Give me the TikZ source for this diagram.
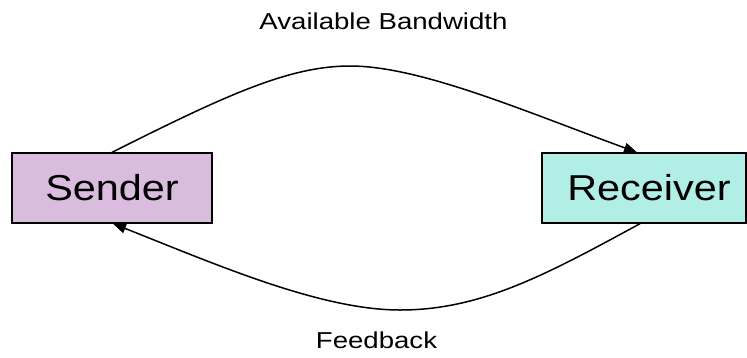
\documentclass[tikz,border=0pt]{standalone}
\usepackage{fontspec}
\setmainfont{Liberation Sans}
\usetikzlibrary{arrows.meta}
\definecolor{sendfill}{HTML}{D9BCDE}
\definecolor{recvfill}{HTML}{B0EEE6}
\begin{document}
\begin{tikzpicture}[x=1pt,y=-1pt,
  box/.style={draw=black,line width=1.3pt,minimum width=200pt,minimum height=70pt,inner sep=0pt,
    font=\fontsize{36}{40}\selectfont},
  conn/.style={draw=black,line width=1.5pt,-{Triangle[length=13pt,width=10pt]}},
  lbl/.style={inner sep=0pt,anchor=base,font=\fontsize{23}{26}\selectfont}]
\useasboundingbox (0,0) rectangle (747,357);
\node[box,fill=sendfill] (s) at (112,188) {\scalebox{1.15}[1]{Sender}};
\node[box,fill=recvfill,minimum width=204pt] (r) at (644,188) {\hspace*{10pt}\scalebox{1.15}[1]{Receiver}};
\node[lbl] (lab1) at (383.5,29) {\scalebox{1.2}[1]{Available Bandwidth}};
\node[lbl] (lab2) at (376.5,348) {\scalebox{1.2}[1]{Feedback}};
\coordinate (top) at (350,66);
\coordinate (bot) at (400,310);
\draw[conn] (s.north) .. controls (228,94) and (290,66) .. (top)
   .. controls (420,66) and (524,111) .. ([xshift=-7pt]r.north);
\draw[conn] ([xshift=-4pt]r.south) .. controls (544,276) and (480,310) .. (bot)
   .. controls (320,310) and (215,264) .. ([xshift=1pt]s.south);
\end{tikzpicture}
\end{document}
